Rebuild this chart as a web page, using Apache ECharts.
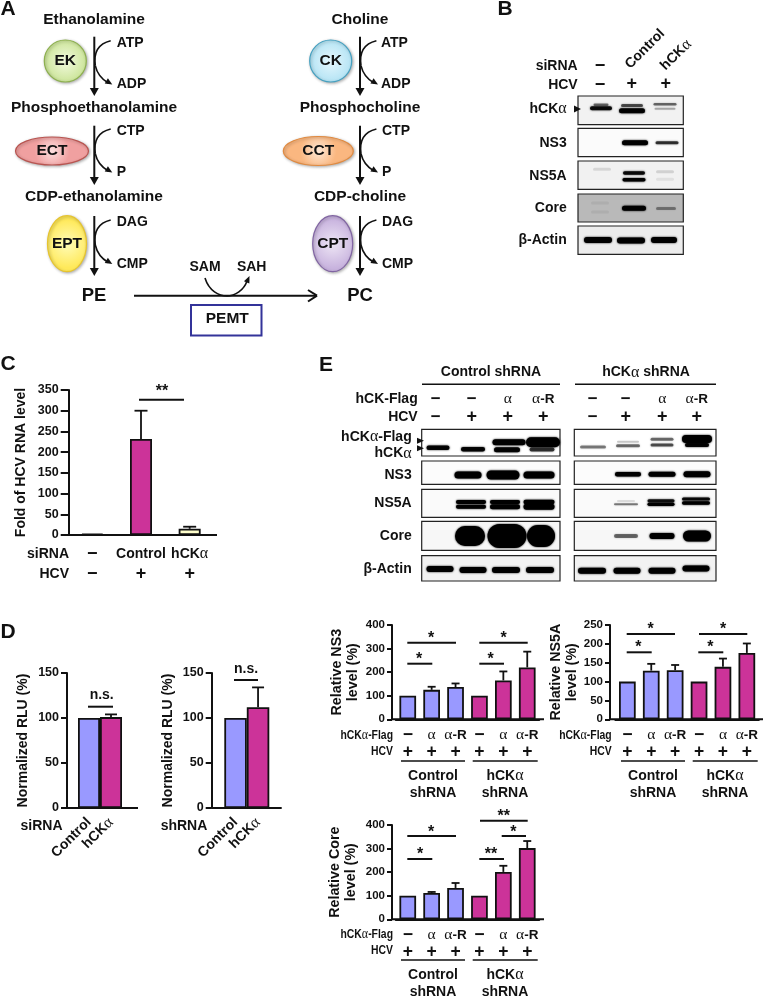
<!DOCTYPE html>
<html>
<head>
<meta charset="utf-8">
<style>
  html, body { margin: 0; background: #fff; }
  #chart { width: 763px; height: 997px; }
</style>
<script src="https://cdn.jsdelivr.net/npm/echarts@6/dist/echarts.min.js"></script>
</head>
<body>
<div id="chart"></div>
<script>
// ---- values ----
const cCategories = ['−\n−', 'Control\n+', 'hCKα\n+']
const cValues = [3, 232, 15]
const cErrors = [0, 68, 5]

const dCategories = ['Control', 'hCKα']
const dSiValues = [100, 101]
const dSiErrors = [0, 3]
const dShValues = [100, 112]
const dShErrors = [0, 22]

const eCategories = ['−\n+', 'α\n+', 'α-R\n+', '−\n+', 'α\n+', 'α-R\n+']
const ns3Values = [100, 125, 137, 100, 165, 220]
const ns3Errors = [0, 13, 15, 0, 38, 67]
const ns5aValues = [100, 129, 130, 100, 139, 176]
const ns5aErrors = [0, 18, 14, 0, 22, 25]
const coreValues = [100, 112, 133, 100, 201, 302]
const coreErrors = [0, 4, 21, 0, 26, 30]

const BLUE = '#9999ff'
const MAGENTA = '#cc3399'
const CREAM = '#ffffcc'
const cColors = [BLUE, MAGENTA, CREAM]
const dColors = [BLUE, MAGENTA]
const eColors = [BLUE, BLUE, BLUE, MAGENTA, MAGENTA, MAGENTA]

const SANS = '"Liberation Sans", Arial, sans-serif'
const SERIF = '"Liberation Serif", serif'
const INK = '#111'

// ---- rich text helpers: the alpha is set in a lighter serif, signs are larger ----
const richStyles = size => ({
    t: { fontFamily: SANS, fontWeight: 'bold', fontSize: size, color: INK },
    g: { fontFamily: SERIF, fontWeight: 'normal', fontSize: size + 2, color: INK },
    p: { fontFamily: SANS, fontWeight: 'bold', fontSize: size + 4, color: INK }
})
const richRow = s => {
    if (s === '+' || s === '−') return `{p|${s}}`
    return s.split(/(α)/).filter(Boolean).map(p => p === 'α' ? '{g|α}' : `{t|${p}}`).join('')
}

const graphics = []

const text = (s, x, y, o = {}) => {
    const size = o.size || 14
    const weight = o.weight || 'bold'
    const style = {
        text: s,
        textAlign: o.align || 'center',
        textVerticalAlign: 'middle',
        font: `${weight} ${size}px ${SANS}`,
        fill: INK
    }
    if (s.includes('α')) {
        style.text = s.split(/(α)/).filter(Boolean).map(p => p === 'α' ? '{g|α}' : `{t|${p}}`).join('')
        style.rich = {
            t: { font: `${weight} ${size}px ${SANS}`, fill: INK },
            g: { font: `${size + 2}px ${SERIF}`, fill: INK }
        }
    }
    graphics.push({ type: 'text', x, y, rotation: o.rotation || 0, scaleX: o.sx || 1, z: 50, style })
}
const line = (x1, y1, x2, y2, w = 2, color = INK) => graphics.push({
    type: 'line', z: 40, shape: { x1, y1, x2, y2 }, style: { stroke: color, lineWidth: w }
})
const head = (x, y, angle, len = 8, wid = 8) => {
    const c = Math.cos(angle), s = Math.sin(angle)
    graphics.push({
        type: 'polygon', z: 41,
        shape: { points: [
            [x, y],
            [x - len * c - wid / 2 * s, y - len * s + wid / 2 * c],
            [x - len * c + wid / 2 * s, y - len * s - wid / 2 * c]
        ] },
        style: { fill: INK }
    })
}
const curve = (x1, y1, cpx1, cpy1, cpx2, cpy2, x2, y2) => graphics.push({
    type: 'bezierCurve', z: 40,
    shape: { x1, y1, cpx1, cpy1, cpx2, cpy2, x2, y2 },
    style: { stroke: INK, lineWidth: 1.6, fill: null }
})

// ---- panel letters ----
text('A', 8, 9, { size: 21 })
text('B', 505, 9, { size: 21 })
text('C', 8, 364, { size: 21 })
text('D', 8, 632, { size: 21 })
text('E', 326, 365, { size: 21 })

// ---- panel A: pathway ----
const enzyme = (name, cx, cy, rx, ry, light, dark, stroke) => {
    graphics.push({
        type: 'ellipse', z: 30,
        shape: { cx, cy, rx, ry },
        style: {
            fill: new echarts.graphic.RadialGradient(0.5, 0.5, 0.6, [
                { offset: 0, color: light }, { offset: 1, color: dark }
            ]),
            stroke, lineWidth: 1.2,
            shadowBlur: 3, shadowColor: 'rgba(0,0,0,0.3)', shadowOffsetX: 1, shadowOffsetY: 1
        }
    })
    text(name, cx, cy, { size: 15.5 })
}
enzyme('EK', 65.3, 61, 21, 21, '#f3fae0', '#c3e08a', '#8db04f')
enzyme('ECT', 52, 151, 36.5, 14, '#fce0e0', '#f0a0a0', '#b85450')
enzyme('EPT', 67, 243.7, 19.5, 28, '#fffcb8', '#ffe95a', '#e6c42e')
enzyme('CK', 330.7, 61, 21, 21, '#e6f7fd', '#a9dff2', '#45a0c0')
enzyme('CCT', 318.3, 151, 35, 14.5, '#fde8d6', '#fab780', '#e08a40')
enzyme('CPT', 332.7, 243.7, 20, 28, '#eee6f5', '#c8b3de', '#8064a2')

const pathwayStep = (x, top, bottom, curveTop, curveEnd, inLabel, outLabel, labelX) => {
    line(x, top, x, bottom - 6, 2)
    head(x, bottom, Math.PI / 2, 8, 9)
    const mid = (curveTop + curveEnd) / 2 + 3
    curve(x + 16.4, curveTop, x + 4, curveTop + 3, x - 1, mid - 14, x + 1, mid)
    curve(x + 1, mid, x + 3, mid + 9, x + 8, curveEnd - 5, x + 14, curveEnd - 1.5)
    head(x + 18, curveEnd, 0.55, 7, 6)
    text(inLabel, labelX, curveTop + 2, { align: 'left' })
    text(outLabel, labelX, curveEnd, { align: 'left' })
}
pathwayStep(94.3, 36.7, 96, 40.7, 84.5, 'ATP', 'ADP', 116.7)
pathwayStep(94.3, 125.7, 185, 129, 172.5, 'CTP', 'P', 116.7)
pathwayStep(94.3, 216, 276, 220, 264, 'DAG', 'CMP', 116.7)
pathwayStep(360, 36.7, 96, 40.7, 84.5, 'ATP', 'ADP', 381)
pathwayStep(360, 125.7, 185, 129, 172.5, 'CTP', 'P', 382)
pathwayStep(360, 216, 276, 220, 264, 'DAG', 'CMP', 382)

text('Ethanolamine', 94, 20, { size: 15.5 })
text('Phosphoethanolamine', 94, 108, { size: 15.5 })
text('CDP-ethanolamine', 94, 197, { size: 15.5 })
text('Choline', 360, 20, { size: 15.5 })
text('Phosphocholine', 360, 108, { size: 15.5 })
text('CDP-choline', 360, 197, { size: 15.5 })
text('PE', 94, 295.7, { size: 18.5 })
text('PC', 360, 295.7, { size: 18.5 })

line(134, 295.7, 316, 295.7, 2)
line(308, 290, 317, 295.7, 2)
line(308, 301.5, 317, 295.7, 2)
text('SAM', 205, 266.7)
text('SAH', 251.7, 266.7)
curve(205, 278, 209, 291, 219, 296, 227, 296)
curve(227, 296, 235, 296, 244, 290, 247, 281)
head(249.5, 276, -1.15, 7, 6)
graphics.push({
    type: 'rect', z: 30, shape: { x: 191, y: 305, width: 70.5, height: 30.5 },
    style: { fill: '#fff', stroke: '#333399', lineWidth: 2 }
})
text('PEMT', 227.3, 319, { size: 15.5 })

// ---- western blots ----
const band = (cx, cy, w, h, a = 1) => graphics.push({
    type: 'rect', z: 21,
    shape: { x: cx - w / 2, y: cy - h / 2, width: w, height: h, r: h / 2 },
    style: {
        fill: `rgba(0,0,0,${a})`,
        shadowBlur: 2, shadowColor: `rgba(0,0,0,${a})`
    }
})
const blot = (x0, x1, y0, y1, bg, bands) => {
    graphics.push({
        type: 'rect', z: 20, shape: { x: x0, y: y0, width: x1 - x0, height: y1 - y0 },
        style: { fill: bg, stroke: '#222', lineWidth: 1.2 }
    })
    bands.forEach(b => band(...b))
}

// panel B
blot(578, 683.3, 96, 124.7, '#f2f2f2', [
    [601, 104.7, 15, 2.5, 0.5], [601, 108.2, 22, 4, 0.88],
    [632, 105.5, 22, 3, 0.6], [632, 110.7, 26, 5, 0.95],
    [665, 104.3, 23, 2.5, 0.5], [665, 108.7, 21, 2, 0.28]
])
blot(578, 683.3, 128.3, 156.7, '#fbfbfb', [
    [635, 142.7, 26, 5, 1], [667, 142.7, 23, 3, 0.7]
])
blot(578, 683.3, 161, 189.3, '#f1f1f1', [
    [634, 173, 22, 3.5, 0.9], [634, 179.7, 23, 3.5, 1],
    [602, 169.3, 18, 3, 0.1], [665, 171.7, 18, 3, 0.12], [665, 179.3, 18, 3, 0.07]
])
blot(578, 683.3, 194, 222, '#b9b9b9', [
    [634, 208.3, 24, 5, 1], [666, 208.5, 20, 3, 0.35],
    [600, 203, 18, 3, 0.06], [600, 212, 18, 3, 0.06]
])
blot(578, 683.3, 226, 254.3, '#ececec', [
    [598, 240, 28, 6, 1], [631, 240.5, 28, 6, 1], [664, 240, 26, 6, 1]
])
text('Control', 645, 49, { size: 14, rotation: Math.PI / 4 })
text('hCKα', 676, 55, { size: 14, rotation: Math.PI / 4 })
text('siRNA', 577.7, 66, { align: 'right' })
text('HCV', 577.7, 85, { align: 'right' })
text('−', 600, 66, { size: 18 })
text('−', 600, 85, { size: 18 })
text('+', 631.7, 84, { size: 18 })
text('+', 665.7, 84, { size: 18 })
text('hCKα', 566.7, 109, { align: 'right' })
text('NS3', 566.7, 143.3, { align: 'right' })
text('NS5A', 566.7, 176, { align: 'right' })
text('Core', 566.7, 208, { align: 'right' })
text('β-Actin', 566.7, 240, { align: 'right' })
head(581, 109, 0, 7, 7)

// panel E
const blotRowsY = [[429.3, 456], [461, 484.3], [489.3, 517.3], [521.3, 550.3], [555.7, 581]]
const blotBgs = ['#fff', '#fcfcfc', '#fafafa', '#f7f7f7', '#f2f2f2']
const eLeft = [
    [[438, 447.7, 23, 4.5, 0.95], [473, 449.3, 24, 4.5, 0.95], [509, 442.3, 33, 6, 1], [507, 449.7, 26, 5, 0.95], [543, 442.3, 34, 10, 1], [542, 449.6, 25, 4, 0.7]],
    [[468, 475, 27, 7, 1], [503, 475, 33, 9, 1], [539, 475, 31, 7, 1]],
    [[471, 502, 30, 4, 1], [471, 506.7, 30, 4, 1], [505, 502, 30, 4, 1], [505, 506.7, 30, 5, 1], [539, 502, 31, 4.5, 1], [539, 506.7, 31, 6, 1]],
    [[470, 536, 30, 20, 1], [507, 536, 39, 24, 1], [541, 536, 28, 22, 1]],
    [[440, 569, 27, 6, 1], [473, 570, 27, 6, 1], [506, 570, 28, 6, 1], [540, 570, 28, 6, 1]]
]
const eRight = [
    [[593, 447, 26, 3, 0.45], [628, 445.7, 24, 3, 0.5], [628, 441.7, 22, 2, 0.2], [662, 439.3, 23, 3, 0.5], [662, 445, 23, 3, 0.6], [697, 439, 30, 8, 1], [697, 445, 24, 4, 0.95]],
    [[628, 474.3, 26, 4.5, 1], [662, 474.3, 27, 5, 1], [697, 474.3, 27, 6, 1]],
    [[626, 504.3, 24, 2, 0.45], [626, 501, 18, 1.5, 0.15], [661, 500.7, 27, 3, 0.85], [661, 504.3, 27, 3.5, 1], [696, 499, 28, 3, 0.9], [696, 503, 28, 3.5, 1]],
    [[626, 536, 24, 4, 0.5], [662, 536, 25, 6, 1], [697, 536, 28, 11, 1]],
    [[592, 570.7, 28, 6, 1], [627, 570.7, 27, 6, 1], [662, 570.7, 27, 6, 1], [696, 568.5, 27, 6, 1]]
]
blotRowsY.forEach((r, i) => {
    blot(421.7, 560, r[0], r[1], blotBgs[i], eLeft[i])
    blot(574.3, 716, r[0], r[1], blotBgs[i], eRight[i])
})
text('Control shRNA', 491, 372.3)
text('hCKα shRNA', 646, 372.3)
line(422, 384.3, 560, 384.3, 1.5)
line(575, 384.3, 716, 384.3, 1.5)
text('hCK-Flag', 417.7, 399.3, { align: 'right' })
text('HCV', 417.7, 417.3, { align: 'right' })
const eLanes = [435.7, 471.7, 507.7, 543.3, 592.7, 625.7, 662.3, 696.7]
const eFlagRow = ['−', '−', 'α', 'α-R', '−', '−', 'α', 'α-R']
const eHcvRow = ['−', '+', '+', '+', '−', '+', '+', '+']
eLanes.forEach((x, i) => {
    const f = eFlagRow[i]
    text(f, x, 399.3, f === '−' ? { size: 17 } : { size: 13.5 })
    text(eHcvRow[i], x, 417, { size: eHcvRow[i] === '+' ? 18 : 17 })
})
text('hCKα-Flag', 411.7, 436.7, { align: 'right' })
text('hCKα', 411.7, 453.3, { align: 'right' })
text('NS3', 411.7, 475, { align: 'right' })
text('NS5A', 411.7, 502.7, { align: 'right' })
text('Core', 411.7, 536, { align: 'right' })
text('β-Actin', 411.7, 569, { align: 'right' })
head(424, 440.7, 0, 7, 6)
head(424, 448.3, 0, 7, 6)

// ---- bar charts: one grid per panel ----
const grids = [], xAxes = [], yAxes = [], series = []

const addBars = c => {
    const i = grids.length
    grids.push({ left: c.left, width: c.width, top: c.top, height: c.height, containLabel: false })
    xAxes.push({
        type: 'category', gridIndex: i, data: c.categories,
        axisLine: { lineStyle: { color: INK, width: 2 } },
        axisTick: { show: false },
        axisLabel: {
            interval: 0, hideOverlap: false, margin: c.labelMargin,
            rotate: c.labelRotate || 0,
            lineHeight: c.rowHeight,
            formatter: v => v.split('\n').map(richRow).join('\n'),
            rich: Object.fromEntries(Object.entries(richStyles(c.labelSize)).map(
                ([k, s]) => [k, { ...s, lineHeight: c.rowHeight }]
            ))
        }
    })
    yAxes.push({
        type: 'value', gridIndex: i, min: 0, max: c.max, interval: c.interval,
        offset: c.left - c.axisX,
        name: c.yName, nameLocation: 'middle', nameRotate: 90, nameGap: c.nameGap,
        nameTextStyle: {
            fontFamily: SANS, fontWeight: 'bold', fontSize: c.nameSize, color: INK,
            lineHeight: c.nameLine
        },
        splitLine: { show: false },
        axisLine: { show: true, onZero: false, lineStyle: { color: INK, width: 2 } },
        axisTick: { show: true, length: c.tick, lineStyle: { color: INK, width: 2 } },
        axisLabel: {
            margin: c.tick + 2, color: INK, fontFamily: SANS, fontWeight: 'bold', fontSize: c.tickSize
        }
    })
    series.push({
        type: 'bar', xAxisIndex: i, yAxisIndex: i, barWidth: c.barWidth, silent: true,
        data: c.values.map((v, k) => ({
            value: v,
            itemStyle: { color: c.colors[k], borderColor: INK, borderWidth: 1.8 }
        }))
    })
    series.push({
        type: 'custom', xAxisIndex: i, yAxisIndex: i, silent: true, z: 1,
        data: c.values.map((v, k) => [k, v, v + c.errors[k]]),
        renderItem: (params, api) => {
            const low = api.coord([api.value(0), api.value(1)])
            const high = api.coord([api.value(0), api.value(2)])
            if (low[1] === high[1]) return null
            const st = { stroke: INK, lineWidth: 1.8 }
            return {
                type: 'group',
                children: [
                    { type: 'line', shape: { x1: low[0], y1: low[1], x2: low[0], y2: high[1] }, style: st },
                    { type: 'line', shape: { x1: low[0] - c.cap, y1: high[1], x2: low[0] + c.cap, y2: high[1] }, style: st }
                ]
            }
        }
    })
    // the reference's baseline runs past the bar slots on both sides
    line(c.axisX, c.top + c.height, c.axisEnd, c.top + c.height, 2)
}

addBars({
    left: 68, width: 146, top: 390, height: 145, axisX: 68.7, axisEnd: 217,
    categories: cCategories, values: cValues, errors: cErrors, colors: cColors,
    max: 350, interval: 50, barWidth: 22, cap: 6.5, tick: 8, tickSize: 12.5,
    yName: 'Fold of HCV RNA level', nameGap: 40, nameSize: 14, nameLine: 15,
    labelMargin: 9, labelSize: 14, rowHeight: 20
})
addBars({
    left: 78, width: 44, top: 673, height: 135, axisX: 67, axisEnd: 138,
    categories: dCategories, values: dSiValues, errors: dSiErrors, colors: dColors,
    max: 150, interval: 50, barWidth: 22, cap: 6, tick: 6, tickSize: 12.5,
    yName: 'Normalized RLU (%)', nameGap: 36, nameSize: 14, nameLine: 15,
    labelMargin: 12, labelSize: 14, rowHeight: 15, labelRotate: 45
})
addBars({
    left: 224.3, width: 45, top: 673, height: 135, axisX: 211.7, axisEnd: 281.7,
    categories: dCategories, values: dShValues, errors: dShErrors, colors: dColors,
    max: 150, interval: 50, barWidth: 22.5, cap: 6, tick: 6, tickSize: 12.5,
    yName: 'Normalized RLU (%)', nameGap: 36, nameSize: 14, nameLine: 15,
    labelMargin: 12, labelSize: 14, rowHeight: 15, labelRotate: 45
})
const ePanel = {
    width: 143.4, height: 94.3, categories: eCategories, colors: eColors,
    barWidth: 16.7, cap: 4, tick: 5, tickSize: 11.5,
    nameSize: 14.3, nameLine: 16,
    labelMargin: 7, labelSize: 13.5, rowHeight: 17
}
addBars({
    ...ePanel, left: 395.8, top: 625, axisX: 392, axisEnd: 544,
    values: ns3Values, errors: ns3Errors, max: 400, interval: 100,
    yName: 'Relative NS3\nlevel (%)', nameGap: 30.5
})
addBars({
    ...ePanel, left: 615.4, top: 625, axisX: 610, axisEnd: 763,
    values: ns5aValues, errors: ns5aErrors, max: 250, interval: 50,
    yName: 'Relative NS5A\nlevel (%)', nameGap: 26
})
addBars({
    ...ePanel, left: 395.8, top: 825, axisX: 392, axisEnd: 544,
    values: coreValues, errors: coreErrors, max: 400, interval: 100,
    yName: 'Relative Core\nlevel (%)', nameGap: 32.5
})

// ---- annotations around the bar charts ----
const rowLabel = (s, x, y) => text(s, x, y, { align: 'right', size: 13, sx: 0.8 })
const sig = (x1, x2, y, mark, mx, my) => {
    line(x1, y, x2, y, 2)
    if (mark === 'n.s.') text(mark, mx, my, { size: 14 })
    else text(mark, mx, my + 3, { size: 16 })
}

text('siRNA', 69, 554, { align: 'right' })
text('HCV', 69, 574, { align: 'right' })
sig(139, 184, 399.7, '**', 162, 389)

text('siRNA', 41.5, 826.5)
text('shRNA', 184, 826.5)
sig(88, 113, 706.7, 'n.s.', 101.7, 695)
sig(234, 258, 680, 'n.s.', 246, 668.7)

const shrnaFooter = (dx, dy, rowRight) => {
    rowLabel('hCKα-Flag', rowRight, 735 + dy)
    rowLabel('HCV', rowRight, 751.7 + dy)
    line(401 + dx, 761 + dy, 465 + dx, 761 + dy, 1.5)
    line(472.7 + dx, 761 + dy, 537.7 + dx, 761 + dy, 1.5)
    text('Control', 433 + dx, 775.7 + dy)
    text('shRNA', 433 + dx, 792.7 + dy)
    text('hCKα', 505 + dx, 775.7 + dy)
    text('shRNA', 505 + dx, 792.7 + dy)
}
shrnaFooter(0, 0, 393)
shrnaFooter(220, 0, 611.7)
shrnaFooter(0, 199, 393)

sig(407.3, 432.3, 663.7, '*', 419, 656.7)
sig(407.3, 456, 642.7, '*', 431, 635.7)
sig(479.3, 504, 663.7, '*', 490.7, 656.7)
sig(479.3, 527.7, 642.7, '*', 503.7, 635.7)

sig(626.7, 651.7, 652.3, '*', 638.3, 645)
sig(626.7, 675, 634, '*', 650.7, 626.7)
sig(698.3, 723.3, 652.3, '*', 710.3, 645)
sig(699, 747.3, 634, '*', 723, 626.7)

sig(407.3, 432.3, 859, '*', 420, 851.7)
sig(407.3, 456, 836, '*', 431, 829.3)
sig(479.3, 504, 859, '**', 491, 851.7)
sig(501.7, 526, 836, '*', 513.3, 830)
sig(480, 527.7, 820.7, '**', 503.7, 813.3)

// ---- chart ----
const chart = echarts.init(document.getElementById('chart'), null, { renderer: 'canvas' })
chart.setOption({
    animation: false,
    backgroundColor: '#fff',
    grid: grids,
    xAxis: xAxes,
    yAxis: yAxes,
    series,
    graphic: { elements: graphics }
})
</script>
</body>
</html>
